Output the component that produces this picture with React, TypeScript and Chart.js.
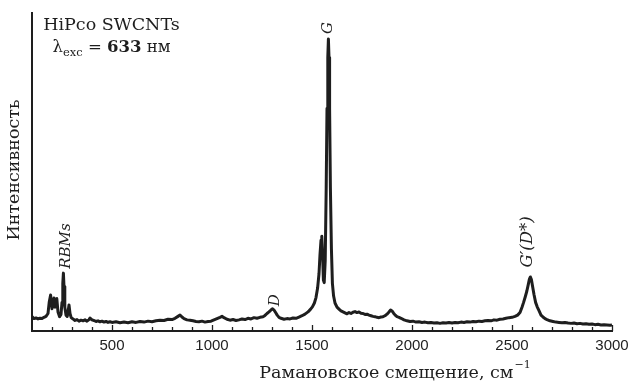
import React, { useEffect, useRef } from "react";
import { Chart, registerables } from "chart.js";

Chart.register(...registerables);

// Raman shift (cm^-1)
const shifts = [
  100, 110, 120, 130, 140, 150, 160, 170, 180, 186, 193, 200, 205, 210, 215, 220, 224, 230, 238, 245,
  250, 254, 257, 260, 264, 270, 276, 280, 285, 290, 296, 305, 315, 325, 335, 345, 355, 365, 375, 385,
  390, 400, 410, 420, 430, 440, 450, 460, 470, 480, 490, 500, 520, 540, 560, 580, 600, 620, 640, 660,
  680, 700, 720, 740, 760, 780, 800, 815, 830, 840, 850, 860, 875, 890, 905, 920, 935, 950, 965, 980,
  995, 1010, 1025, 1040, 1050, 1060, 1075, 1090, 1105, 1120, 1135, 1150, 1165, 1180, 1195, 1210, 1225, 1240, 1255, 1265,
  1275, 1285, 1295, 1303, 1310, 1318, 1326, 1335, 1345, 1360, 1375, 1390, 1405, 1420, 1435, 1450, 1465, 1480, 1492, 1502,
  1512, 1520, 1528, 1535, 1540, 1545, 1549, 1553, 1557, 1561, 1566, 1571, 1575, 1579, 1582, 1585, 1588, 1592, 1597, 1602,
  1608, 1615, 1625, 1635, 1645, 1655, 1665, 1675, 1685, 1695, 1705, 1715, 1725, 1735, 1745, 1755, 1765, 1775, 1785, 1795,
  1805, 1815, 1825, 1835, 1845, 1855, 1865, 1875, 1885, 1893, 1900, 1908, 1916, 1925, 1935, 1945, 1960, 1975, 1990, 2005,
  2020, 2035, 2050, 2065, 2080, 2095, 2110, 2125, 2140, 2155, 2170, 2185, 2200, 2215, 2230, 2245, 2260, 2275, 2290, 2305,
  2320, 2335, 2350, 2365, 2380, 2395, 2410, 2425, 2440, 2455, 2470, 2485, 2500, 2515, 2528, 2540, 2550, 2558, 2566, 2574,
  2581, 2587, 2592, 2597, 2603, 2610, 2618, 2626, 2635, 2645, 2655, 2665, 2675, 2690, 2705, 2720, 2735, 2750, 2765, 2780,
  2795, 2810, 2825, 2840, 2855, 2870, 2885, 2900, 2915, 2930, 2945, 2960, 2975, 2990, 3000,
];

// Intensity (arb. units)
const intensities = [
  4.5, 3.9, 4.1, 3.8, 4.0, 3.9, 4.3, 4.6, 5.5, 9.0, 11.3, 7.0, 8.5, 10.4, 7.5, 9.0, 10.2, 6.0, 4.5, 5.2,
  9.0, 15.0, 18.2, 14.0, 7.5, 5.0, 4.6, 6.0, 8.2, 5.5, 4.2, 3.8, 3.3, 3.6, 3.1, 3.4, 3.2, 3.5, 3.1, 3.6,
  4.1, 3.5, 3.3, 3.0, 3.2, 2.9, 3.1, 2.8, 3.0, 2.7, 2.9, 2.7, 2.9, 2.6, 2.8, 2.6, 2.9, 2.7, 3.0, 2.8,
  3.1, 2.9, 3.2, 3.4, 3.3, 3.7, 3.6, 4.0, 4.6, 5.0, 4.4, 3.9, 3.5, 3.4, 3.2, 3.0, 2.9, 3.1, 2.8, 3.0,
  3.1, 3.5, 3.9, 4.3, 4.6, 4.2, 3.7, 3.4, 3.6, 3.3, 3.5, 3.8, 3.6, 4.0, 3.8, 4.2, 4.0, 4.3, 4.5, 4.9,
  5.5, 6.0, 6.6, 7.0, 6.6, 5.8, 5.0, 4.3, 4.0, 3.7, 3.9, 3.8, 4.1, 4.0, 4.4, 4.8, 5.3, 6.0, 6.8, 7.6,
  8.8, 10.5, 13.5, 18.0, 24.0, 28.5, 29.8, 24.0, 16.0, 15.2, 22.0, 45.0, 70.0, 86.0, 91.8, 86.0, 70.0, 45.0, 26.0, 15.0,
  11.0, 8.8, 7.5, 6.9, 6.3, 6.0, 5.7, 5.4, 5.8, 5.5, 5.9, 6.1, 5.8, 6.0, 5.6, 5.5, 5.2, 5.3, 5.0, 4.8,
  4.6, 4.5, 4.3, 4.2, 4.4, 4.5, 4.8, 5.3, 6.0, 6.6, 6.3, 5.6, 5.0, 4.5, 4.3, 4.0, 3.5, 3.2, 3.0, 3.1,
  2.8, 2.9, 2.7, 2.8, 2.6, 2.7, 2.5, 2.6, 2.4, 2.6, 2.5, 2.7, 2.5, 2.7, 2.6, 2.8, 2.7, 2.9, 2.8, 3.0,
  2.9, 3.1, 3.0, 3.2, 3.3, 3.2, 3.5, 3.4, 3.7, 3.8, 4.0, 4.2, 4.3, 4.6, 5.0, 5.8, 7.5, 9.0, 10.7, 12.5,
  14.5, 16.3, 17.0, 16.2, 14.0, 11.5, 9.0, 7.6, 6.4, 5.0, 4.4, 3.9, 3.6, 3.2, 3.0, 2.8, 2.7, 2.6, 2.7, 2.5,
  2.4, 2.5, 2.3, 2.4, 2.2, 2.3, 2.1, 2.2, 2.0, 2.1, 1.9, 2.0, 1.9, 1.8, 1.9,
];

const xTickLabels = [500, 1000, 1500, 2000, 2500, 3000];
const xMin = 100;
const xMax = 3000;
const minorStep = 100;

// peak annotations, in data coordinates (shift, intensity)
const peakLabelText = ["RBMs", "D", "G", "G′(D*)"];
const peakLabelShift = [270, 1315, 1580, 2580];
const peakLabelIntensity = [26.7, 9.7, 95.3, 28];

const yTitle = "Интенсивность";
const xTitle = "Рамановское смещение, см";
const sampleLine = "HiPco SWCNTs";

const SERIF = '"DejaVu Serif", "Liberation Serif", serif';
const INK = "#1e1e1e";

const decorPlugin = {
  id: "decor",
  afterDraw(chart: any) {
    const { ctx, scales } = chart;
    const xs = scales.x;
    const ys = scales.y;
    const axisY = ys.getPixelForValue(0);
    ctx.save();
    ctx.strokeStyle = INK;
    ctx.lineWidth = 1.3;
    // inward ticks
    for (let v = xMin; v <= xMax; v += minorStep) {
      if (v === xMin) continue;
      const px = Math.round(xs.getPixelForValue(v)) + 0.5;
      const major = v % 500 === 0;
      ctx.beginPath();
      ctx.moveTo(px, axisY);
      ctx.lineTo(px, axisY - (major ? 6 : 4));
      ctx.stroke();
    }
    ctx.fillStyle = INK;

    // peak labels (rotated, italic)
    ctx.font = `italic 15px ${SERIF}`;
    ctx.textAlign = "center";
    ctx.textBaseline = "middle";
    peakLabelText.forEach((t, i) => {
      const px = xs.getPixelForValue(peakLabelShift[i]);
      const py = ys.getPixelForValue(peakLabelIntensity[i]);
      ctx.save();
      ctx.translate(px, py);
      ctx.rotate(-Math.PI / 2);
      ctx.font = i === 3 ? `italic 16.5px ${SERIF}` : `italic 15px ${SERIF}`;
      ctx.fillText(t, 0, 0);
      ctx.restore();
    });

    // y title
    ctx.font = `17.5px ${SERIF}`;
    ctx.save();
    ctx.translate(14, 170);
    ctx.rotate(-Math.PI / 2);
    ctx.fillText(yTitle, 0, 0);
    ctx.restore();

    // x title with superscript
    ctx.textBaseline = "alphabetic";
    ctx.textAlign = "left";
    const mainFont = `17.5px ${SERIF}`;
    const supFont = `11px ${SERIF}`;
    ctx.font = mainFont;
    const wMain = ctx.measureText(xTitle).width;
    ctx.font = supFont;
    const wSup = ctx.measureText("−1").width;
    const total = wMain + 1 + wSup;
    const startX = 395 - total / 2;
    ctx.font = mainFont;
    ctx.fillText(xTitle, startX, 378);
    ctx.font = supFont;
    ctx.fillText("−1", startX + wMain + 1, 368);

    // sample annotation
    ctx.textAlign = "left";
    ctx.font = `17.5px ${SERIF}`;
    const w1 = ctx.measureText(sampleLine).width;
    ctx.fillText(sampleLine, 111.5 - w1 / 2, 30);

    const parts = [
      { t: "λ", f: `16.5px ${SERIF}`, dy: 0 },
      { t: "exc", f: `11.5px ${SERIF}`, dy: 4 },
      { t: " = ", f: `16.5px ${SERIF}`, dy: 0 },
      { t: "633", f: `bold 16.5px ${SERIF}`, dy: 0 },
      { t: " нм", f: `16.5px ${SERIF}`, dy: 0 },
    ];
    let tw = 0;
    parts.forEach((p) => {
      ctx.font = p.f;
      tw += ctx.measureText(p.t).width;
    });
    let cx = 111.5 - tw / 2;
    parts.forEach((p) => {
      ctx.font = p.f;
      ctx.fillText(p.t, cx, 52 + p.dy);
      cx += ctx.measureText(p.t).width;
    });
    ctx.restore();
  },
};

export default function App() {
  const ref = useRef<HTMLCanvasElement | null>(null);
  useEffect(() => {
    if (!ref.current) return;
    const data = shifts.map((x, i) => ({ x, y: intensities[i] }));
    const chart = new Chart(ref.current, {
      type: "line",
      data: {
        datasets: [
          {
            data,
            borderColor: INK,
            borderWidth: 3,
            pointRadius: 0,
            tension: 0,
            borderJoinStyle: "round",
            fill: false,
          },
        ],
      },
      options: {
        animation: false,
        responsive: false,
        devicePixelRatio: 1,
        events: [],
        layout: { padding: { left: 32, right: 18, top: 13, bottom: 0 } },
        plugins: { legend: { display: false }, tooltip: { enabled: false } },
        scales: {
          x: {
            type: "linear",
            min: xMin,
            max: xMax,
            afterFit: (s: any) => {
              s.height = 55;
              s.paddingLeft = 0;
              s.paddingRight = 0;
            },
            afterBuildTicks: (s: any) => {
              s.ticks = xTickLabels.map((v) => ({ value: v }));
            },
            grid: { display: false },
            border: { display: true, color: INK, width: 2 },
            ticks: {
              autoSkip: false,
              maxRotation: 0,
              padding: -2,
              color: "#222",
              font: { family: '"Liberation Sans", Arial, sans-serif', size: 15 },
              callback: (v: any) => String(v),
            },
          },
          y: {
            type: "linear",
            min: 0,
            max: 100,
            afterFit: (s: any) => {
              s.width = 0;
              s.paddingTop = 0;
              s.paddingBottom = 0;
            },
            grid: { display: false },
            border: { display: true, color: INK, width: 2 },
            ticks: { display: false },
          },
        },
      },
      plugins: [decorPlugin],
    });
    return () => chart.destroy();
  }, []);
  return (
    <div style={{ position: "absolute", left: 0, top: 0, width: 630, height: 386, background: "#fff" }}>
      <canvas ref={ref} width={630} height={386} style={{ width: 630, height: 386, display: "block" }} />
    </div>
  );
}
